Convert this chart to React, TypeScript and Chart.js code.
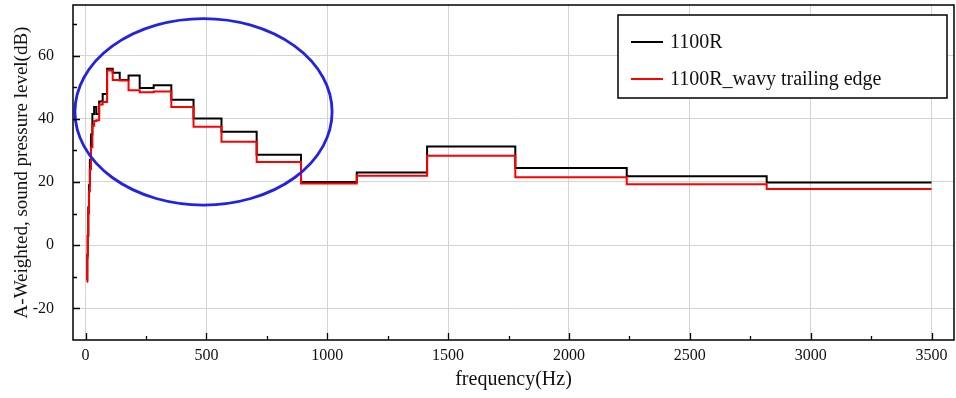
import React, { useEffect, useRef } from 'react';
import { Chart, registerables } from 'chart.js';

Chart.register(...registerables);

// 1/3-octave band lower edges (Hz); the last band is closed at lastUpperEdge
const bandLowerEdges = [5.6, 7.1, 8.9, 11.2, 14.1, 17.8, 22.4, 28.2, 35.5, 44.7, 56.2, 70.8, 89.1, 112.2, 141.3, 177.8, 223.9, 281.8, 354.8, 446.7, 562.3, 707.9, 891.3, 1122, 1413, 1778, 2239, 2818];
const lastUpperEdge = 3500;

// A-weighted SPL per band (dB)
const spl1100R = [-11, -3, 3, 12, 19, 27, 35, 41.5, 43.7, 41.5, 45.5, 47.8, 55.8, 54.6, 52.3, 53.7, 49.7, 50.6, 46.0, 40.1, 35.9, 28.6, 20.0, 23.0, 31.2, 24.4, 21.8, 19.8];
const splWavy = [-11.6, -4, 3, 10, 17, 24, 31, 37.8, 39.3, 39.5, 44.5, 45.3, 55.3, 52.3, 52.1, 49.0, 48.4, 48.6, 43.7, 37.5, 32.7, 26.3, 19.5, 22.0, 28.3, 21.5, 19.3, 17.8];

const seriesLabels = ['1100R', '1100R_wavy trailing edge'];
const seriesColors = ['#000000', '#ff0000'];

const xTickValues = [0, 500, 1000, 1500, 2000, 2500, 3000, 3500];
const xMinorTickValues = [250, 750, 1250, 1750, 2250, 2750, 3250];
const yTickValues = [-20, 0, 20, 40, 60];
const yMinorTickValues = [-10, 10, 30, 50, 70];

// highlighted region (centre Hz, centre dB, radius Hz, radius dB)
const highlightEllipse = { cx: 488, cy: 42.2, rx: 532, ry: 29.5 };

const FONT = '"Liberation Serif", "DejaVu Serif", serif';

function toSteps(values: number[]) {
  const pts = bandLowerEdges.map((e, i) => ({ x: e, y: values[i] }));
  pts.push({ x: lastUpperEdge, y: values[values.length - 1] });
  return pts;
}

const decorPlugin = {
  id: 'decor',
  afterDatasetsDraw(chart: any) {
    const { ctx, chartArea, scales } = chart;
    const xs = scales.x;
    const ys = scales.y;
    const { left, right, top, bottom } = chartArea;
    ctx.save();
    // ellipse
    const cx = xs.getPixelForValue(highlightEllipse.cx);
    const cy = ys.getPixelForValue(highlightEllipse.cy);
    const rx = Math.abs(xs.getPixelForValue(highlightEllipse.cx + highlightEllipse.rx) - cx);
    const ry = Math.abs(ys.getPixelForValue(highlightEllipse.cy + highlightEllipse.ry) - cy);
    ctx.beginPath();
    ctx.ellipse(cx, cy, rx, ry, 0, 0, Math.PI * 2);
    ctx.strokeStyle = '#2222e4';
    ctx.lineWidth = 2.8;
    ctx.stroke();

    // frame
    ctx.strokeStyle = '#000';
    ctx.lineWidth = 1.5;
    ctx.strokeRect(left, top, right - left, bottom - top);

    // inward ticks
    ctx.lineWidth = 1.3;
    ctx.beginPath();
    xTickValues.forEach((v) => {
      const px = Math.round(xs.getPixelForValue(v)) + 0.5;
      ctx.moveTo(px, bottom);
      ctx.lineTo(px, bottom - 7);
    });
    xMinorTickValues.forEach((v) => {
      const px = Math.round(xs.getPixelForValue(v)) + 0.5;
      ctx.moveTo(px, bottom);
      ctx.lineTo(px, bottom - 4);
    });
    yTickValues.forEach((v) => {
      const py = Math.round(ys.getPixelForValue(v)) + 0.5;
      ctx.moveTo(left, py);
      ctx.lineTo(left + 7, py);
    });
    yMinorTickValues.forEach((v) => {
      const py = Math.round(ys.getPixelForValue(v)) + 0.5;
      ctx.moveTo(left, py);
      ctx.lineTo(left + 4, py);
    });
    ctx.stroke();

    // legend
    const bx = 618, by = 15, bw = 329, bh = 83;
    ctx.fillStyle = '#fff';
    ctx.fillRect(bx, by, bw, bh);
    ctx.strokeStyle = '#000';
    ctx.lineWidth = 1.5;
    ctx.strokeRect(bx, by, bw, bh);
    ctx.font = `20px ${FONT}`;
    ctx.textBaseline = 'middle';
    ctx.textAlign = 'left';
    const rows = [42, 79];
    chart.data.datasets.forEach((ds: any, i: number) => {
      const y = rows[i];
      ctx.beginPath();
      ctx.moveTo(631, y);
      ctx.lineTo(663, y);
      ctx.strokeStyle = ds.borderColor;
      ctx.lineWidth = 2;
      ctx.stroke();
      ctx.fillStyle = '#111';
      ctx.fillText(ds.label, 670, y + 1);
    });
    ctx.restore();
  },
};

export default function App() {
  const ref = useRef<HTMLCanvasElement | null>(null);
  useEffect(() => {
    document.body.style.margin = '0';
    if (!ref.current) return;
    const chart = new Chart(ref.current, {
      type: 'line',
      data: {
        datasets: [
          {
            label: seriesLabels[0],
            data: toSteps(spl1100R),
            borderColor: seriesColors[0],
            borderWidth: 2,
            pointRadius: 0,
            stepped: true,
            order: 1,
          },
          {
            label: seriesLabels[1],
            data: toSteps(splWavy),
            borderColor: seriesColors[1],
            borderWidth: 2,
            pointRadius: 0,
            stepped: true,
            order: 0,
          },
        ],
      },
      options: {
        responsive: false,
        animation: false,
        parsing: false,
        layout: { padding: { top: 5, right: 2, left: 0, bottom: 0 } },
        plugins: { legend: { display: false }, tooltip: { enabled: false }, title: { display: false } },
        scales: {
          x: {
            type: 'linear',
            min: -52,
            max: 3593,
            afterBuildTicks: (s: any) => {
              s.ticks = xTickValues.map((v) => ({ value: v }));
            },
            afterFit: (s: any) => {
              s.height = 58;
              s.paddingLeft = 0;
              s.paddingRight = 0;
              s.paddingTop = 0;
              s.paddingBottom = 0;
            },
            grid: { color: '#d4d4d4', lineWidth: 1, drawTicks: false },
            border: { display: false },
            ticks: {
              font: { family: FONT, size: 16 },
              color: '#111',
              padding: 6,
              maxRotation: 0,
              autoSkip: false,
              callback: (v: any) => String(v),
            },
            title: {
              display: true,
              text: 'frequency(Hz)',
              font: { family: FONT, size: 20 },
              color: '#111',
              padding: { top: 0, bottom: 6 },
            },
          },
          y: {
            type: 'linear',
            min: -30,
            max: 76,
            afterBuildTicks: (s: any) => {
              s.ticks = yTickValues.map((v) => ({ value: v }));
            },
            afterFit: (s: any) => {
              s.width = 73;
              s.paddingTop = 0;
              s.paddingBottom = 0;
              s.paddingLeft = 0;
              s.paddingRight = 0;
            },
            grid: { color: '#d4d4d4', lineWidth: 1, drawTicks: false },
            border: { display: false },
            ticks: {
              font: { family: FONT, size: 16 },
              color: '#111',
              padding: 19,
              autoSkip: false,
              callback: (v: any) => String(v),
            },
            title: {
              display: true,
              text: 'A-Weighted, sound pressure level(dB)',
              font: { family: FONT, size: 19 },
              color: '#111',
              padding: { top: 11, bottom: 0 },
            },
          },
        },
      },
      plugins: [decorPlugin],
    });
    return () => chart.destroy();
  }, []);
  return (
    <div style={{ width: 956, height: 398 }}>
      <canvas ref={ref} width={956} height={398} style={{ display: 'block' }} />
    </div>
  );
}
